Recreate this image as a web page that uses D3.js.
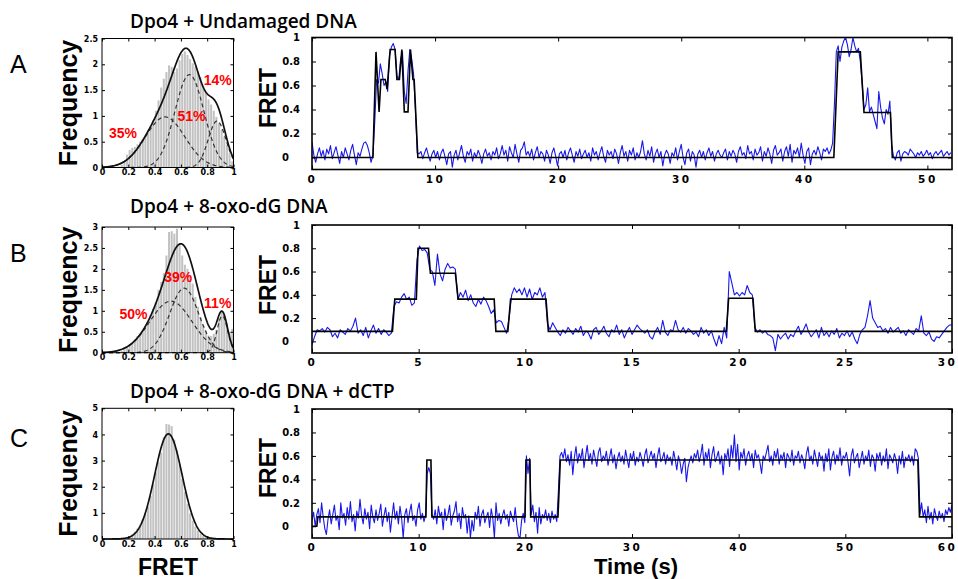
<!DOCTYPE html>
<html><head><meta charset="utf-8">
<script src="https://cdn.jsdelivr.net/npm/d3@7/dist/d3.min.js"></script>
<style>body{margin:0;background:#fff}svg{display:block}</style>
</head><body>
<svg id="c" width="958" height="579"></svg>
<script>
// ---------------- DATA ----------------
const panelLetters = ["A","B","C"];
const titles = ["Dpo4 + Undamaged DNA","Dpo4 + 8-oxo-dG DNA","Dpo4 + 8-oxo-dG DNA + dCTP"];
const percentA = [{t:"35%",x:.16,y:.67},{t:"51%",x:.68,y:1.0},{t:"14%",x:.88,y:1.70}];
const percentB = [{t:"50%",x:.24,y:.92},{t:"39%",x:.58,y:1.80},{t:"11%",x:.88,y:1.18}];

const histBinWidth = 0.02;
const histA = [0,0,0,0,0,.01,.02,.05,.12,.25,.34,.38,.40,.45,.50,.56,.62,.70,.80,.92,1.10,1.30,1.55,1.72,1.85,1.98,1.95,1.85,1.92,2.08,2.20,2.25,2.18,2.10,2.02,1.95,1.85,1.75,1.58,1.45,1.32,1.22,1.10,.98,.86,.74,.60,.44,.28,.12];
const histB = [0,0,0,0,0,.01,.02,.04,.08,.13,.18,.25,.32,.40,.45,.52,.62,.73,.90,1.05,1.21,1.50,1.69,1.90,2.32,2.88,2.90,2.84,2.96,2.60,2.32,2.10,2.00,1.85,1.65,1.33,1.10,.85,.65,.53,.41,.40,.45,.55,.81,.97,.90,.70,.49,.57];
const histC = [0,0,0,0,0,0,0,0,.02,.05,.10,.18,.28,.40,.55,.75,.95,1.25,1.65,2.10,2.55,2.95,3.30,3.90,4.40,4.38,4.32,3.80,3.40,2.85,2.30,1.80,1.35,.98,.70,.48,.32,.20,.12,.07,.04,.02,0,0,0,0,0,0,0,0];

// Gaussian fit components (mean, sd, peak height)
const fitA = [{mean:.48,sd:.15,peak:.98},{mean:.665,sd:.11,peak:1.80},{mean:.875,sd:.067,peak:.90}];
const fitB = [{mean:.524,sd:.16,peak:1.23},{mean:.625,sd:.11,peak:1.54},{mean:.915,sd:.04,peak:.88}];
const fitC = [{mean:.505,sd:.105,peak:4.02}];

const histXTicks = [0,.2,.4,.6,.8,1];
const histYTicksA = [0,.5,1,1.5,2,2.5];
const histYTicksB = [0,.5,1,1.5,2,2.5,3];
const histYTicksC = [0,1,2,3,4,5];

const traceYTicks = [0,.2,.4,.6,.8,1];
const traceXTicksA = [0,10,20,30,40,50];
const traceXTicksB = [0,5,10,15,20,25,30];
const traceXTicksC = [0,10,20,30,40,50,60];

// FRET traces (sampling interval in s, then values)
const dtA = 0.15;
const traceA = [.13,.02,-.04,.03,.08,.01,.06,-.02,.07,.03,.10,-.01,.04,.09,.02,-.05,.05,.00,.08,.03,-.02,.06,.11,.02,-.06,.04,.01,.07,.12,.13,.10,.04,-.04,.02,
.30,.65,.62,.78,.70,.60,.63,.55,.85,.92,.95,.90,.68,.65,.82,.88,.55,.45,.72,.90,.82,.70,.40,.04,
.03,.05,-.01,.04,.08,.02,-.03,.03,.06,.00,.05,-.02,.04,.07,.01,
-.06,.03,.05,-.08,.02,.06,-.02,.04,.10,.01,-.04,.05,.02,.07,-.03,
.04,.00,.06,.02,-.05,.03,.07,.01,.04,-.02,.05,.02,.08,-.01,.03,
.10,.02,.06,-.03,.09,.04,.00,.11,.03,-.04,.06,.08,.13,.02,.05,
.01,.07,-.02,.04,.09,.00,.05,.03,-.03,.06,.02,-.05,.04,.08,.01,
-.07,.03,.05,.00,.06,-.02,.04,.08,.02,-.04,.05,.01,.07,-.01,.03,
.06,.00,.04,-.03,.08,.02,.05,-.02,.04,.09,.01,-.04,.06,.02,.05,
-.01,.07,.03,-.05,.04,.10,.01,.05,-.03,.06,.02,.08,-.02,.04,.00,
.05,.14,.03,-.02,.06,.01,.09,-.04,.03,.07,.00,.05,-.07,.02,.06,
.03,-.05,.04,.01,.08,-.02,.05,.11,.00,-.06,.04,.07,-.03,.05,.02,
-.08,.03,.06,.00,.05,-.02,.04,.08,.01,.05,-.03,.03,.06,.02,.00,
.04,.07,-.02,.05,.01,.06,.03,-.04,.05,.09,.02,.04,-.01,.10,.03,
.05,-.02,.07,.02,.04,.09,-.03,.05,.01,.08,.03,-.05,.06,.10,.02,
.04,.07,-.03,.05,.09,.01,.11,-.04,.06,.03,.08,.00,.12,.02,-.05,
.05,.08,-.06,.03,.06,.02,.09,.04,-.02,.07,.05,.08,.03,.06,.12,
.45,.88,.93,.80,.92,.97,1.0,.94,.84,.90,1.0,.93,.88,.91,.80,.62,.40,.44,.58,.38,.42,.36,.30,.24,.55,.42,.33,.28,.40,.36,.47,.10,.01,
-.02,.04,.06,-.03,.03,.05,.04,.02,.07,.05,.03,.00,.04,.02,.05,.01,.03,.06,.02,.04,-.01,.03,.05,.02,.04,.06,.01,.03,.05,.02,.04];

const dtB = 0.12;
const traceB = [-.03,.04,.10,.09,.11,.08,.12,.10,
.04,.07,.03,.10,.08,.06,.11,.09,.13,.20,.07,.10,.05,.12,.03,.09,.14,.07,.11,.06,.10,.08,.05,.07,
.30,.34,.33,.38,.41,.36,.38,.31,.33,
.70,.82,.78,.79,.76,.62,.60,.48,.75,.58,.52,.62,.67,.63,.64,.62,.36,.42,.38,.44,
.35,.40,.33,.30,.36,.32,.38,.35,.30,.24,.27,.16,.18,.17,.12,.07,.20,.40,.46,.42,
.45,.40,.46,.38,.45,.36,.42,.40,.46,.38,.42,.15,
.10,.16,.12,.08,.05,.10,.07,.12,.09,.06,
.11,.08,.13,.05,.09,.07,.02,.10,.12,.06,
.09,.13,.07,.04,.10,.08,.14,.06,.10,.03,
.08,.12,.06,.10,.14,.11,.09,.07,.10,.04,
.02,.08,.12,.06,.18,.08,.05,.10,.09,.18,
.10,.08,.12,.07,.11,.09,.06,.08,.04,.12,
.07,.10,.05,.09,.02,-.04,.05,-.02,.12,.03,
.60,.50,.40,.42,.39,.42,.40,.48,.42,.40,.12,
.08,.10,.07,.09,.06,.05,.03,-.08,.06,.02,.05,.07,.02,.06,.04,.09,.13,.06,.10,.15,
.08,.04,.07,.10,.03,.12,.05,.08,.04,.09,.06,.11,.03,.07,.05,.09,.04,.08,.02,-.02,
.06,.10,.12,.22,.35,.20,.16,.12,.13,.09,.11,.07,.12,.08,.10,.12,.07,.09,.05,.10,
.08,.06,.11,.09,.22,.07,.05,.08,.02,.00,.04,.03,.06,.09,.12,.14,.14];

const dtC = 0.15;
const traceC = [.05,.12,.00,.10,.15,.03,.20,.08,-.02,-.07,
.06,.14,.02,.10,.18,.05,.09,-.03,.20,.07,
.11,.01,.16,.06,.21,.04,.10,-.04,.13,.07,
.23,.09,.02,.15,.06,.12,-.02,.18,.08,.03,
.14,.05,.11,.19,.00,.09,.16,.04,.12,-.05,
.08,.20,.06,.13,.02,.17,.07,-.10,.10,.15,
.03,.12,.19,.05,.09,.00,.14,.20,.06,.11,
.04,.10,.45,.50,.45,.10,.06,.14,.02,.17,
.08,.12,-.03,.15,.05,.10,.18,.01,.09,.13,
.21,.04,.11,-.02,.16,.07,.10,-.06,.09,-.10,
.05,-.04,.12,.06,.17,.00,.10,.14,.03,.08,
.12,-.01,.15,.07,-.10,.20,.05,.11,.02,.09,
.14,.06,.10,.00,.13,.08,.04,.16,.01,-.08,
-.10,.05,.11,.03,.60,.45,.58,.10,.18,.04,
.12,-.06,.16,.02,.10,.07,.14,.05,.11,.03,
.13,.06,.10,.04,
.30,.60,.63,.58,.66,.55,.61,.52,.64,.44,
.59,.68,.54,.62,.57,.66,.50,.60,.69,.56,
.62,.53,.65,.58,.51,.63,.67,.55,.60,.57,
.64,.52,.59,.66,.54,.61,.49,.58,.63,.55,
.60,.53,.65,.57,.50,.62,.56,.64,.52,.59,
.55,.63,.58,.51,.61,.66,.54,.59,.64,.57,
.62,.50,.60,.67,.55,.58,.63,.53,.61,.56,
.59,.52,.64,.57,.48,.60,.55,.45,.53,.58,
.38,.50,.56,.60,.54,.62,.58,.65,.55,.61,
.70,.52,.63,.57,.66,.50,.61,.68,.55,.59,
.64,.53,.60,.44,.62,.57,.66,.51,.69,.58,
.78,.55,.70,.48,.63,.58,.66,.52,.60,.64,
.56,.62,.50,.65,.58,.61,.54,.45,.60,.57,
.63,.69,.55,.60,.52,.64,.58,.66,.53,.61,
.57,.63,.50,.62,.59,.55,.65,.52,.60,.58,
.64,.54,.61,.57,.49,.62,.68,.56,.60,.53,
.65,.58,.51,.63,.57,.60,.47,.62,.55,.66,
.48,.59,.64,.53,.61,.56,.67,.52,.60,.58,
.63,.55,.43,.60,.66,.54,.59,.62,.50,.57,
.64,.53,.60,.56,.65,.51,.61,.58,.47,.62,
.57,.63,.52,.60,.55,.66,.49,.61,.58,.54,
.62,.57,.45,.60,.53,.64,.50,.59,.56,.61,
.55,.60,.52,.66,.64,.58,
.10,.20,.08,.14,.03,.17,.06,.12,.02,.15,.09,.05,.13,.07,.11,.04,.14,.10,.16,.12,.18];

// idealized (HMM) state paths: [time, FRET]
const idealA = [[0,0],[4.95,0],[5.2,.88],[5.45,.38],[5.6,.65],[5.95,.65],[6.1,.57],[6.35,.9],[6.75,.9],[6.9,.65],[7.1,.65],[7.3,.9],[7.5,.38],[7.8,.38],[8.0,.9],[8.2,.65],[8.3,.65],[8.6,0],[42.4,0],[42.75,.88],[44.55,.88],[44.85,.375],[47.0,.375],[47.15,0],[52,0]];
const idealB = [[0,.086],[3.77,.086],[3.88,.363],[4.89,.363],[4.97,.80],[5.46,.80],[5.55,.586],[6.72,.586],[6.85,.363],[8.54,.363],[8.62,.086],[9.18,.086],[9.31,.363],[10.97,.363],[11.08,.086],[19.42,.086],[19.53,.37],[20.67,.37],[20.78,.086],[30,.086]];
const idealC = [[0,0],[0.45,0],[0.55,.08],[10.68,.08],[10.77,.565],[11.15,.565],[11.24,.08],[19.97,.08],[20.06,.565],[20.43,.565],[20.5,.08],[23.06,.08],[23.28,.565],[56.8,.565],[56.95,.08],[60,.08]];

// ---------------- DRAW ----------------
const svg = d3.select("#c");
const boldSans = "'Liberation Sans', Arial, sans-serif";
const tickFont = "'DejaVu Sans', sans-serif";

function styleTicks(sel, size, spacing){
  sel.select(".domain").remove();
  sel.selectAll(".tick line").attr("stroke","#000").attr("stroke-width",1);
  sel.selectAll(".tick text").attr("font-family",tickFont).attr("font-weight","bold")
     .attr("font-size",size).attr("fill","#000").attr("letter-spacing",spacing||0);
}

function histPanel(p){
  const x = d3.scaleLinear().domain([0,1]).range([p.x0,p.x1]);
  const y = d3.scaleLinear().domain([0,p.ymax]).range([p.y1,p.y0]);
  const g = svg.append("g");
  g.selectAll("rect.bar").data(p.bars).join("rect").attr("class","bar")
    .attr("x",(d,i)=>x(i*histBinWidth)+0.3)
    .attr("width",x(histBinWidth)-x(0)-0.6)
    .attr("y",d=>y(d)).attr("height",d=>y(0)-y(d))
    .attr("fill","#c2c2c2");
  const xs = d3.range(0,1.0001,0.004);
  const gauss = (c,v)=>c.peak*Math.exp(-0.5*Math.pow((v-c.mean)/c.sd,2));
  const line = d3.line().x(d=>x(d[0])).y(d=>y(d[1]));
  if(p.fit.length>1){
    p.fit.forEach(c=>{
      g.append("path").attr("d",line(xs.map(v=>[v,gauss(c,v)])))
        .attr("fill","none").attr("stroke","#333").attr("stroke-width",1.2).attr("stroke-dasharray","4,3");
    });
  }
  g.append("path").attr("d",line(xs.map(v=>[v,d3.sum(p.fit,c=>gauss(c,v))])))
    .attr("fill","none").attr("stroke","#111").attr("stroke-width",1.7);
  (p.pct||[]).forEach(l=>{
    g.append("text").attr("x",x(l.x)).attr("y",y(l.y)).attr("text-anchor","middle")
      .attr("dy","0.36em").attr("font-family",boldSans).attr("font-weight","bold")
      .attr("font-size",14).attr("fill","#ff0000").text(l.t);
  });
  g.append("g").attr("transform",`translate(0,${p.y1})`)
    .call(d3.axisBottom(x).tickValues(histXTicks).tickFormat(d3.format("~g")).tickSizeInner(-3).tickSizeOuter(0).tickPadding(2))
    .call(s=>styleTicks(s,8));
  g.append("g").attr("transform",`translate(0,${p.y0})`)
    .call(d3.axisTop(x).tickValues(histXTicks).tickFormat("").tickSizeInner(-3).tickSizeOuter(0))
    .call(s=>styleTicks(s,8));
  g.append("g").attr("transform",`translate(${p.x0},0)`)
    .call(d3.axisLeft(y).tickValues(p.yticks).tickFormat(d3.format("~g")).tickSizeInner(-3).tickSizeOuter(0).tickPadding(4))
    .call(s=>styleTicks(s,8));
  g.append("g").attr("transform",`translate(${p.x1},0)`)
    .call(d3.axisRight(y).tickValues(p.yticks).tickFormat("").tickSizeInner(-3).tickSizeOuter(0))
    .call(s=>styleTicks(s,8));
  g.append("rect").attr("x",p.x0).attr("y",p.y0).attr("width",p.x1-p.x0).attr("height",p.y1-p.y0)
    .attr("fill","none").attr("stroke","#000").attr("stroke-width",1);
  g.append("text").attr("transform",`translate(${p.x0-25},${(p.y0+p.y1)/2}) rotate(-90)`)
    .attr("text-anchor","middle").attr("font-family",boldSans).attr("font-weight","bold")
    .attr("font-size",25).text("Frequency");
}

function tracePanel(p){
  const x = d3.scaleLinear().domain([0,p.tmax]).range([312,952]);
  const y = d3.scaleLinear().domain([-0.1,1]).range([p.y1,p.y0]);
  const g = svg.append("g");
  const cid = "clip"+p.name;
  svg.append("clipPath").attr("id",cid).append("rect")
    .attr("x",312).attr("y",p.y0).attr("width",640).attr("height",p.y1-p.y0);
  const line = d3.line().x(d=>x(d[0])).y(d=>y(d[1]));
  g.append("path").attr("clip-path",`url(#${cid})`)
    .attr("d",line(p.values.map((v,i)=>[i*p.dt,v])))
    .attr("fill","none").attr("stroke","#1818e8").attr("stroke-width",1.1).attr("stroke-linejoin","round");
  g.append("path").attr("clip-path",`url(#${cid})`)
    .attr("d",line(p.ideal)).attr("fill","none").attr("stroke","#000").attr("stroke-width",1.6);
  const bx = g.append("g").attr("transform",`translate(0,${p.y1})`)
    .call(d3.axisBottom(x).tickValues(p.xticks).tickFormat(d3.format("~g")).tickSizeInner(-4).tickSizeOuter(0).tickPadding(6))
    .call(s=>styleTicks(s,10.5,2.5));
  // keep a tick label sitting on the right frame edge inside the picture
  bx.selectAll(".tick text").filter(d=>x(d)>945).attr("dx",-5);
  g.append("g").attr("transform",`translate(0,${p.y0})`)
    .call(d3.axisTop(x).tickValues(p.xticks).tickFormat("").tickSizeInner(-4).tickSizeOuter(0))
    .call(s=>styleTicks(s,10));
  const la = g.append("g").attr("transform",`translate(312,0)`)
    .call(d3.axisLeft(y).tickValues(traceYTicks).tickFormat(d3.format("~g")).tickSizeInner(-4).tickSizeOuter(0).tickPadding(12))
    .call(s=>styleTicks(s,10));
  la.selectAll(".tick text").filter(d=>d===0).attr("dx",-11);
  g.append("g").attr("transform",`translate(952,0)`)
    .call(d3.axisRight(y).tickValues(traceYTicks).tickFormat("").tickSizeInner(-4).tickSizeOuter(0))
    .call(s=>styleTicks(s,10));
  g.append("rect").attr("x",312).attr("y",p.y0).attr("width",640).attr("height",p.y1-p.y0)
    .attr("fill","none").attr("stroke","#000").attr("stroke-width",1.6);
  g.append("text").attr("transform",`translate(276,${p.labelY}) rotate(-90)`)
    .attr("text-anchor","middle").attr("font-family",boldSans).attr("font-weight","bold")
    .attr("font-size",23).text("FRET");
}

const rows = [
  {letterY:73, titleY:28, hist:{x0:102,x1:233.5,y0:38.5,y1:167.5,ymax:2.5,yticks:histYTicksA,bars:histA,fit:fitA,pct:percentA},
   trace:{name:"A",tmax:52,y0:37.5,y1:169.5,dt:dtA,values:traceA,ideal:idealA,xticks:traceXTicksA,labelY:98}},
  {letterY:262, titleY:213, hist:{x0:102,x1:233.5,y0:227,y1:352.7,ymax:3,yticks:histYTicksB,bars:histB,fit:fitB,pct:percentB},
   trace:{name:"B",tmax:30,y0:225,y1:353,dt:dtB,values:traceB,ideal:idealB,xticks:traceXTicksB,labelY:285}},
  {letterY:447, titleY:398, hist:{x0:102,x1:233.5,y0:408.3,y1:539,ymax:5,yticks:histYTicksC,bars:histC,fit:fitC,pct:[]},
   trace:{name:"C",tmax:60,y0:409,y1:538,dt:dtC,values:traceC,ideal:idealC,xticks:traceXTicksC,labelY:468}}
];

rows.forEach((r,i)=>{
  histPanel(r.hist);
  tracePanel(r.trace);
  svg.append("text").attr("x",10).attr("y",r.letterY).attr("font-family",boldSans)
    .attr("font-size",25).text(panelLetters[i]);
  svg.append("text").attr("x",130).attr("y",r.titleY).attr("font-family","'Open Sans', sans-serif")
    .attr("font-weight",600).attr("font-size",19).text(titles[i]);
});

svg.append("text").attr("x",168).attr("y",575).attr("text-anchor","middle").attr("font-family",boldSans)
  .attr("font-weight","bold").attr("font-size",23).text("FRET");
svg.append("text").attr("x",636).attr("y",574).attr("text-anchor","middle").attr("font-family",boldSans)
  .attr("font-weight","bold").attr("font-size",22).text("Time (s)");
</script>
</body></html>
